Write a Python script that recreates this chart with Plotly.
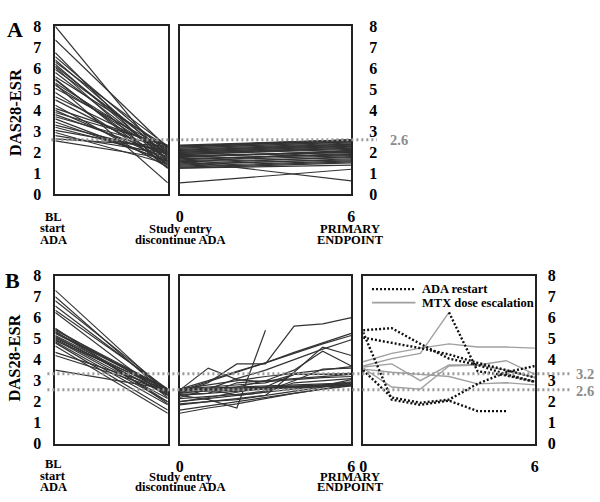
import plotly.graph_objects as go

# ---------------- data ----------------
# Panel A: DAS28-ESR at baseline (start ADA), study entry (discontinue ADA), primary endpoint (month 6)
A_bl = [8.0, 7.35, 6.75, 6.55, 6.4, 6.3, 6.2, 6.1, 6.05, 5.95, 5.8, 5.6, 5.45, 5.3, 5.25, 5.2, 5.05, 4.85,
        4.65, 4.5, 4.25, 4.1, 4.0, 3.8, 3.7, 3.6, 3.45, 3.3, 3.2, 3.05, 2.95, 2.8, 2.65, 2.55, 3.9, 5.5]
A_se = [1.5, 2.2, 1.35, 2.0, 1.8, 2.3, 1.6, 1.9, 1.25, 2.1, 1.7, 2.25, 1.45, 1.95, 0.55, 1.85, 2.15, 1.4,
        2.05, 1.75, 1.3, 2.3, 1.65, 1.9, 2.2, 1.55, 1.6, 2.0, 1.8, 2.1, 1.45, 1.95, 2.3, 1.7, 2.35, 1.25]
A_pe = [2.1, 2.5, 1.6, 2.3, 2.0, 2.6, 0.65, 2.2, 1.5, 2.4, 1.9, 2.55, 1.8, 2.25, 1.2, 2.0, 2.45, 1.7,
        2.35, 2.1, 1.55, 2.6, 1.95, 2.15, 2.5, 1.75, 1.85, 2.3, 2.05, 2.4, 1.65, 2.2, 2.55, 1.9, 2.6, 1.4]

# Panel B: baseline values and monthly values (months 0..6) after discontinuation
months = [0, 1, 2, 3, 4, 5, 6]
B_bl = [7.3, 7.0, 6.8, 6.55, 6.35, 6.25, 5.5, 5.45, 5.4, 5.3, 5.25, 5.15, 5.1, 5.0, 4.95, 4.85, 4.8,
        4.65, 4.35, 4.2, 3.5, 5.35, 5.05, 4.9]
B_traj = [
    [2.4, 2.9, 3.8, 3.8, 5.6, 5.7, 6.0],
    [2.3, 2.1, 1.7, 5.4, None, None, None],
    [2.55, 3.6, 3.05, 2.95, 3.05, 3.15, 3.2],
    [2.5, 2.95, 3.4, 3.85, 4.35, 4.8, 5.25],
    [2.6, 3.0, 3.45, 3.85, 4.3, 4.75, 5.15],
    [2.2, 2.6, 3.1, 3.5, 4.0, 4.5, 4.95],
    [1.9, 2.0, 2.15, 2.3, 3.4, 4.6, 4.2],
    [2.4, 2.55, 2.7, 3.0, 3.5, 4.4, 3.7],
    [2.6, 2.65, 2.7, 2.75, 2.8, 2.85, 2.9],
    [2.6, 2.62, 2.65, 2.7, 2.75, 2.8, 2.85],
    [2.55, 2.6, 2.65, 2.68, 2.72, 2.76, 2.8],
    [2.45, 2.5, 2.55, 2.6, 2.65, 2.7, 2.76],
    [2.3, 2.4, 2.5, 2.6, 2.7, 2.8, 2.95],
    [2.15, 2.25, 2.35, 2.5, 3.0, 3.55, 3.6],
    [2.0, 2.15, 2.3, 2.45, 2.6, 2.75, 3.05],
    [1.85, 2.0, 2.1, 2.3, 2.5, 2.7, 2.9],
    [1.6, 1.8, 2.0, 2.2, 2.4, 2.6, 2.8],
    [1.45, 1.7, 1.9, 2.15, 2.4, 2.6, 2.75],
    [2.6, 2.8, 3.0, 3.2, 3.35, 3.5, 3.67],
    [2.5, 2.6, 2.3, 2.45, 2.9, 3.0, 3.1],
    [2.6, 2.7, 2.8, 2.9, 3.3, 3.3, 3.35],
    [2.0, 2.2, 2.45, 2.7, 3.3, 3.3, 3.3],
    [2.35, 2.4, 2.9, 3.0, 3.1, 3.2, 3.3],
    [2.6, 2.6, 2.6, 2.65, 2.7, 2.75, 2.8],
]

# Panel B right: flare-treated patients
ADA_restart = [
    [5.4, 5.5, 4.75, 4.05, 3.75, 3.3, 2.95],
    [5.05, 4.8, 4.55, 4.25, 3.85, 3.5, 3.15],
    [None, None, None, 6.25, 3.45, 3.25, 2.95],
    [5.3, 2.1, 1.85, 2.05, 1.55, 1.55, None],
    [3.5, 2.2, 1.95, 2.1, 2.85, 3.4, 3.7],
]
MTX_escalation = [
    [3.9, 4.3, 4.55, 4.75, 4.6, 4.6, 4.55],
    [3.7, 4.05, 4.3, 6.25, None, None, None],
    [3.65, 3.8, 3.0, 3.75, 3.75, 3.95, 3.3],
    [3.6, 2.7, 2.6, 3.7, 3.75, 3.5, 3.15],
    [3.55, 3.4, 3.3, 3.2, 2.85, 2.9, 2.8],
]

y_ticks = [0, 1, 2, 3, 4, 5, 6, 7, 8]
refA = 2.6
refB = [3.33, 2.57]
refB_labels = ["3.2", "2.6"]

# ---------------- layout helpers ----------------
W, H = 600, 502
FONT = "Liberation Serif"
LINE = "#333333"
BOX = "#222222"
REF = "#9a9a9a"


def fx(x):
    return x / W


def fy(y):
    return 1 - y / H


A_y = [fy(193), fy(19)]
B_y = [fy(451), fy(277)]
left_x = [fx(52), fx(166)]
mid_x = [fx(178), fx(352)]
right_x = [fx(364), fx(538)]

fig = go.Figure()


def add_line(xs, ys, xa, ya, color=LINE, width=1.2, dash="solid"):
    fig.add_trace(go.Scatter(x=xs, y=ys, mode="lines", xaxis=xa, yaxis=ya,
                             line=dict(color=color, width=width, dash=dash),
                             hoverinfo="skip", showlegend=False, connectgaps=False))


for b, s, p in zip(A_bl, A_se, A_pe):
    add_line([0, 1], [b, s], "x", "y")
    add_line([0, 6], [s, p], "x2", "y2")

for b, t in zip(B_bl, B_traj):
    add_line([0, 1], [b, t[0]], "x3", "y3")
    add_line(months, t, "x4", "y4")

for t in MTX_escalation:
    add_line(months, t, "x5", "y5", color="#a0a0a0", width=1.4)
for t in ADA_restart:
    add_line(months, t, "x5", "y5", color="#111111", width=2.4, dash="2px,2px")

tickfont = dict(family=FONT, size=16, color="black", weight="bold")
common = dict(showline=True, mirror=True, linecolor=BOX, linewidth=1.5, showgrid=False,
              zeroline=False, fixedrange=True)


def yax(domain, anchor, side="left", show=True, ticklen=8):
    d = dict(common, domain=domain, anchor=anchor, range=[0, 8], side=side,
             tickvals=y_ticks, tickfont=tickfont)
    if show:
        d.update(ticks="outside", ticklen=ticklen, tickcolor="rgba(0,0,0,0)")
    else:
        d.update(showticklabels=False, ticks="")
    return d


def xax(domain, anchor, rng, show=True):
    d = dict(common, domain=domain, anchor=anchor, range=rng, tickfont=tickfont)
    if show:
        d.update(tickvals=[0, 6], ticks="outside", ticklen=7, tickcolor="rgba(0,0,0,0)")
    else:
        d.update(showticklabels=False, ticks="")
    return d


fig.update_layout(
    width=W, height=H, margin=dict(l=0, r=0, t=0, b=0),
    paper_bgcolor="white", plot_bgcolor="white", showlegend=False,
    xaxis=xax(left_x, "y", [0, 1], show=False),
    yaxis=yax(A_y, "x", ticklen=9),
    xaxis2=xax(mid_x, "y2", [0, 6]),
    yaxis2=yax(A_y, "x2", side="right", ticklen=13),
    xaxis3=xax(left_x, "y3", [0, 1], show=False),
    yaxis3=yax(B_y, "x3", ticklen=9),
    xaxis4=xax(mid_x, "y4", [0, 6]),
    yaxis4=yax(B_y, "x4", show=False),
    xaxis5=xax(right_x, "y5", [0, 6]),
    yaxis5=yax(B_y, "x5", side="right", ticklen=8),
)

shapes = []
shapes.append(dict(type="line", xref="paper", yref="y", x0=fx(48), x1=fx(378), y0=refA, y1=refA,
                   line=dict(color=REF, width=3, dash="2px,3px"), layer="above"))
for v in refB:
    shapes.append(dict(type="line", xref="paper", yref="y3", x0=fx(44), x1=fx(574), y0=v, y1=v,
                       line=dict(color=REF, width=3, dash="2px,3px"), layer="above"))
# legend samples
shapes.append(dict(type="line", xref="paper", yref="paper", x0=fx(373), x1=fx(417), y0=fy(291), y1=fy(291),
                   line=dict(color="#111111", width=2.4, dash="2px,2px")))
shapes.append(dict(type="line", xref="paper", yref="paper", x0=fx(373), x1=fx(417), y0=fy(305), y1=fy(305),
                   line=dict(color="#a0a0a0", width=1.6)))
fig.update_layout(shapes=shapes)

ann = []


def text(x, y, s, size=12, color="black", angle=0, xanchor="center"):
    ann.append(dict(x=fx(x), y=fy(y), xref="paper", yref="paper", text=s, showarrow=False,
                    xanchor=xanchor, yanchor="middle", textangle=angle,
                    font=dict(family=FONT, size=size, color=color, weight="bold")))


text(11, 22, "A", size=22)
text(9, 282, "B", size=22)
text(11, 108, "DAS28-ESR", size=16.5, angle=-90)
text(11, 362, "DAS28-ESR", size=16.5, angle=-90)
text(400, 137, "2.6", size=14.5, color="#8c8c8c")
text(589, 379, refB_labels[0], size=14.5, color="#8c8c8c")
text(589, 396, refB_labels[1], size=14.5, color="#8c8c8c")

for base in (0, 256):
    text(50, 216 + base, "BL", size=12.5)
    text(50, 228 + base, "start", size=12.5)
    text(50, 240 + base, "ADA", size=12.5)
    text(179, 229 + base, "Study entry", size=12.5)
    text(179, 240 + base, "discontinue ADA", size=12.5)
    text(351, 229 + base, "PRIMARY", size=12.5)
    text(351, 240 + base, "ENDPOINT", size=12.5)

text(422, 291, "ADA restart", size=12.5, xanchor="left")
text(422, 305, "MTX dose escalation", size=12.5, xanchor="left")

fig.update_layout(annotations=ann)
fig.write_html("out.html", config={"displayModeBar": False},
               post_script="document.body.style.margin='0px';document.body.style.overflow='hidden';")
